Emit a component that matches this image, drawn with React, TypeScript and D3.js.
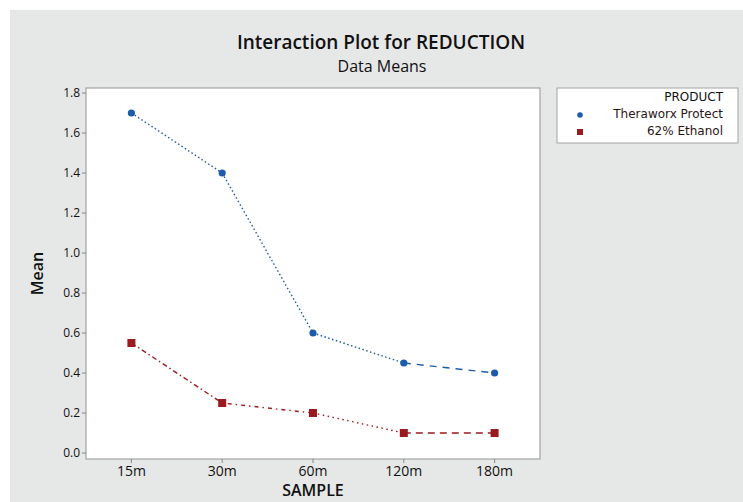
import React from 'react';
import * as d3 from 'd3';

const samples = ['15m', '30m', '60m', '120m', '180m'];
const theraworx = [1.7, 1.4, 0.6, 0.45, 0.4];
const ethanol = [0.55, 0.25, 0.2, 0.1, 0.1];
const yTicks = [0.0, 0.2, 0.4, 0.6, 0.8, 1.0, 1.2, 1.4, 1.6, 1.8];

const BLUE = '#1d5ca8';
const RED = '#9a1b1f';
const FONT = '"Open Sans", "DejaVu Sans", sans-serif';
const LEGEND_FONT = '"DejaVu Sans", sans-serif';

// dash pattern for each segment
const blueDash = ['1.5,2.5', '1.5,2.5', '1.5,2.5', '7,6'];
const redDash = ['5,3,1.5,3', '1.5,4,4,4', '1.5,3.5', '7,5'];

const App = () => {
  const width = 743;
  const height = 502;
  const plot = { left: 86, right: 540, top: 88, bottom: 459 };

  const x = d3.scalePoint<string>()
    .domain(samples)
    .range([plot.left, plot.right])
    .padding(0.5);
  const y = d3.scaleLinear()
    .domain([-0.03, 1.825])
    .range([plot.bottom, plot.top]);

  const segments = (vals: number[], dashes: string[], color: string) =>
    vals.slice(1).map((v, i) => (
      <line
        key={i}
        x1={x(samples[i])}
        y1={y(vals[i])}
        x2={x(samples[i + 1])}
        y2={y(v)}
        stroke={color}
        strokeWidth={1.4}
        strokeDasharray={dashes[i]}
      />
    ));

  return (
    <svg width={width} height={height} style={{ position: 'absolute', left: 0, top: 0 }} fontFamily={FONT}>
      <rect x={0} y={0} width={width} height={height} fill="#fff" />
      <rect x={10} y={10} width={width - 10} height={height - 10} fill="#e6e7e7" />

      <text x={381} y={49} textAnchor="middle" fontSize={19} fontWeight={600} fill="#111">Interaction Plot for REDUCTION</text>
      <text x={382} y={72} textAnchor="middle" fontSize={16} fill="#111">Data Means</text>

      <rect
        x={plot.left}
        y={plot.top}
        width={plot.right - plot.left}
        height={plot.bottom - plot.top}
        fill="#fff"
        stroke="#a3a3a3"
        strokeWidth={1.2}
      />

      {yTicks.map((t) => (
        <g key={t}>
          <line x1={plot.left - 4} x2={plot.left} y1={y(t)} y2={y(t)} stroke="#888" />
          <text x={plot.left - 6} y={y(t)} dy="0.35em" textAnchor="end" fontSize={12} fill="#111">
            {t.toFixed(1)}
          </text>
        </g>
      ))}
      {samples.map((s) => (
        <g key={s}>
          <line x1={x(s)} x2={x(s)} y1={plot.bottom} y2={plot.bottom + 4} stroke="#888" />
          <text x={x(s)} y={plot.bottom + 17} textAnchor="middle" fontSize={14} fill="#111">{s}</text>
        </g>
      ))}

      <text transform={`translate(43,${(plot.top + plot.bottom) / 2}) rotate(-90)`} textAnchor="middle" fontSize={16} fontWeight={600} fill="#111">Mean</text>
      <text x={(plot.left + plot.right) / 2} y={496} textAnchor="middle" fontSize={16} fontWeight={600} fill="#111">SAMPLE</text>

      {segments(theraworx, blueDash, BLUE)}
      {segments(ethanol, redDash, RED)}

      {theraworx.map((v, i) => (
        <circle key={i} cx={x(samples[i])} cy={y(v)} r={3.6} fill={BLUE} />
      ))}
      {ethanol.map((v, i) => (
        <rect key={i} x={x(samples[i])! - 4} y={y(v) - 4} width={8} height={8} fill={RED} />
      ))}

      <g fontFamily={LEGEND_FONT} fontSize={12}>
        <rect x={557} y={88} width={181} height={55} fill="#fff" stroke="#a3a3a3" strokeWidth={1} />
        <text x={723} y={101} textAnchor="end" fill="#111">PRODUCT</text>
        <circle cx={580} cy={115} r={2.8} fill={BLUE} />
        <text x={723} y={118} textAnchor="end" fill="#2a1515">Theraworx Protect</text>
        <rect x={577} y={129} width={6} height={6} fill={RED} />
        <text x={723} y={135} textAnchor="end" fill="#2a1515">62% Ethanol</text>
      </g>
    </svg>
  );
};

export default App;
